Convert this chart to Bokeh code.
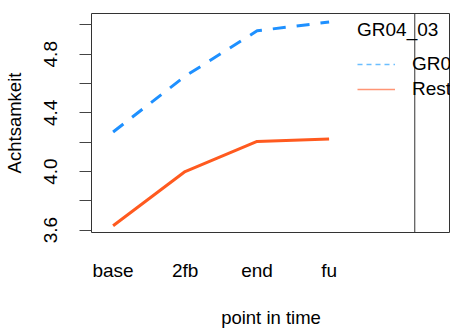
from bokeh.plotting import figure
from bokeh.models import Range1d, FixedTicker, Legend, LegendItem, ColumnDataSource, Span
from bokeh.embed import file_html
from bokeh.resources import INLINE

# ---- data ----
time_points = ["base", "2fb", "end", "fu"]
gr_values = [4.27, 4.65, 4.96, 5.02]
rest_values = [3.63, 4.00, 4.205, 4.222]
group_names = ["GR04_03", "Rest"]
legend_title = "GR04_03"
y_ticks = [3.6, 3.8, 4.0, 4.2, 4.4, 4.6, 4.8, 5.0]
y_tick_labels = ["3.6", "", "4.0", "", "4.4", "", "4.8", ""]

x_pos = list(range(1, len(time_points) + 1))

# ---- layout constants ----
X_START = 0.70          # left edge of plot box (x units)
X_BOX_END = 5.19        # right edge of the drawn plot box
PX_PER_X = 72.0
FRAME_LEFT = 91
W, H = 450, 335
X_END = X_START + (W - FRAME_LEFT) / PX_PER_X

FONT = "Liberation Sans"
BLUE = "#1E90FF"
RED = "#FF5A1F"
BLUE_LEG = "#6BBEFF"
RED_LEG = "#FF9575"
BOX = "#333333"

p = figure(width=W, height=H, output_backend="svg", toolbar_location=None,
           x_range=Range1d(X_START, X_END), y_range=Range1d(3.584, 5.078),
           min_border_left=FRAME_LEFT, min_border_right=0, min_border_top=13, min_border_bottom=103)

p.background_fill_color = "white"
p.border_fill_color = "white"
p.outline_line_color = BOX
p.outline_line_width = 1
p.grid.visible = False

# right edge of the plot box
p.add_layout(Span(location=X_BOX_END, dimension="height", line_color=BOX, line_width=1))

src_gr = ColumnDataSource(dict(x=x_pos, y=gr_values))
src_rest = ColumnDataSource(dict(x=x_pos, y=rest_values))
p.line("x", "y", source=src_gr, line_color=BLUE, line_width=3, line_dash="13 11")
p.line("x", "y", source=src_rest, line_color=RED, line_width=3)

# legend-only renderers (thin lines as in reference); NaN data draws nothing
nan = float("nan")
leg_gr = p.line(x=[nan], y=[nan], line_color=BLUE_LEG, line_width=1.5, line_dash="5 4")
leg_rest = p.line(x=[nan], y=[nan], line_color=RED_LEG, line_width=1.5)

# x axis
xa = p.xaxis[0]
xa.ticker = FixedTicker(ticks=x_pos)
xa.major_label_overrides = {i: t for i, t in zip(x_pos, time_points)}
xa.axis_line_color = None
xa.major_tick_line_color = None
xa.minor_tick_line_color = None
xa.major_tick_out = 0
xa.major_tick_in = 0
xa.major_label_standoff = 27
xa.major_label_text_font = FONT
xa.major_label_text_font_size = "19px"
xa.major_label_text_color = "black"
xa.axis_label = "point in time"
xa.axis_label_text_font = FONT
xa.axis_label_text_font_size = "18.5px"
xa.axis_label_text_font_style = "normal"
xa.axis_label_text_color = "black"
xa.axis_label_standoff = 23

# y axis
ya = p.yaxis[0]
ya.ticker = FixedTicker(ticks=y_ticks)
ya.major_label_overrides = {t: l for t, l in zip(y_ticks, y_tick_labels)}
ya.axis_line_color = None
ya.major_tick_line_color = "#444444"
ya.minor_tick_line_color = None
ya.major_tick_out = 12
ya.major_tick_in = 0
ya.major_label_orientation = "vertical"
ya.major_label_standoff = 22
ya.major_label_text_font = FONT
ya.major_label_text_font_size = "19px"
ya.major_label_text_color = "black"
ya.axis_label = "Achtsamkeit"
ya.axis_label_text_font = FONT
ya.axis_label_text_font_size = "18.5px"
ya.axis_label_text_font_style = "normal"
ya.axis_label_text_color = "black"
ya.axis_label_standoff = 17

legend = Legend(items=[LegendItem(label=group_names[0], renderers=[leg_gr]),
                       LegendItem(label=group_names[1], renderers=[leg_rest])],
                location=(266, 132), title=legend_title)
legend.title_text_font = FONT
legend.title_text_font_size = "19px"
legend.title_text_font_style = "normal"
legend.title_text_color = "black"
legend.title_standoff = 12
legend.label_text_font = FONT
legend.label_text_font_size = "19px"
legend.label_text_color = "black"
legend.glyph_width = 38
legend.glyph_height = 20
legend.label_height = 20
legend.label_standoff = 17
legend.spacing = 3
legend.padding = 0
legend.margin = 0
legend.border_line_color = None
legend.background_fill_alpha = 0
p.add_layout(legend, "center")

open("out.html", "w").write(file_html(p, INLINE))
